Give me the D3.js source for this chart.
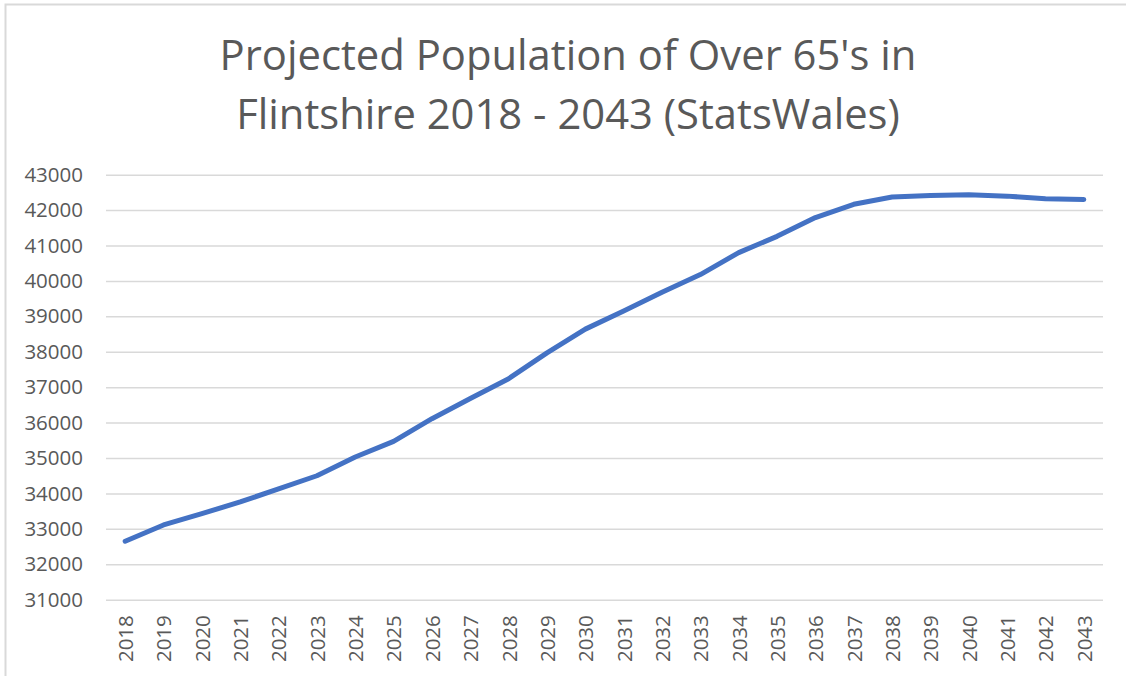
<!DOCTYPE html>
<html>
<head>
<meta charset="utf-8">
<script src="https://cdn.jsdelivr.net/npm/d3@7"></script>
<style>
  html, body { margin: 0; padding: 0; background: #fff; }
  svg { display: block; font-family: "Open Sans", sans-serif; }
</style>
</head>
<body>
<script>
const titleLines = ["Projected Population of Over 65's in", 'Flintshire 2018 - 2043 (StatsWales)'];

const years = [
  '2018', '2019', '2020', '2021', '2022', '2023', '2024', '2025', '2026',
  '2027', '2028', '2029', '2030', '2031', '2032', '2033', '2034', '2035',
  '2036', '2037', '2038', '2039', '2040', '2041', '2042', '2043'
];

const population = [
  32650, 33110, 33430, 33760, 34130, 34500, 35030, 35470, 36110,
  36680, 37240, 37970, 38640, 39150, 39680, 40180, 40800, 41260,
  41790, 42165, 42370, 42415, 42435, 42395, 42320, 42300
];

const yTicks = [31000, 32000, 33000, 34000, 35000, 36000, 37000, 38000, 39000, 40000, 41000, 42000, 43000];

const width = 1126;
const height = 676;
const margin = { top: 174.7, right: 23, bottom: 76.3, left: 106 };
const boundedWidth = width - margin.left - margin.right;
const boundedHeight = height - margin.top - margin.bottom;

const svg = d3.select('body')
  .append('svg')
  .attr('width', width)
  .attr('height', height)
  .attr('viewBox', [0, 0, width, height]);

// chart frame
svg.append('path')
  .attr('fill', 'none')
  .attr('stroke', '#d9d9d9')
  .attr('stroke-width', 2)
  .attr('d', `M 5.5 ${height} V 4.5 H ${width}`);

// title, sized so the first line spans the same width as the original
const title = svg.append('g')
  .attr('fill', '#595959')
  .attr('text-anchor', 'middle');

const titleText = title.selectAll('text')
  .data(titleLines)
  .enter()
  .append('text')
  .attr('x', 568)
  .attr('y', (d, i) => 69.5 + i * 59)
  .attr('font-size', 40)
  .text(d => d);

const measured = titleText.node().getComputedTextLength();
titleText.attr('font-size', 40 * 697 / measured);

const xScale = d3.scalePoint()
  .domain(years)
  .range([0, boundedWidth])
  .padding(0.5);

const yScale = d3.scaleLinear()
  .domain([31000, 43000])
  .range([boundedHeight, 0]);

const viz = svg.append('g')
  .attr('transform', `translate(${margin.left} ${margin.top})`);

const yAxis = d3.axisLeft(yScale)
  .tickValues(yTicks)
  .tickSizeInner(-boundedWidth)
  .tickSizeOuter(0)
  .tickPadding(23)
  .tickFormat(d => d);

const yAxisGroup = viz.append('g').call(yAxis);
yAxisGroup.select('.domain').remove();
yAxisGroup.selectAll('line')
  .attr('stroke', '#d9d9d9')
  .attr('stroke-width', 1.5);
yAxisGroup.selectAll('text')
  .attr('fill', '#595959')
  .attr('font-size', 20.5)
  .attr('font-family', '"Open Sans", sans-serif');

const xAxis = d3.axisBottom(xScale).tickSize(0);

const xAxisGroup = viz.append('g')
  .attr('transform', `translate(0 ${boundedHeight})`)
  .call(xAxis);
xAxisGroup.select('.domain').remove();
xAxisGroup.selectAll('text')
  .attr('fill', '#595959')
  .attr('font-size', 20.5)
  .attr('font-family', '"Open Sans", sans-serif')
  .attr('transform', 'rotate(-90)')
  .attr('text-anchor', 'end')
  .attr('x', -15.5)
  .attr('y', 0)
  .attr('dy', '0.36em');

const line = d3.line()
  .x((d, i) => xScale(years[i]))
  .y(d => yScale(d));

viz.append('path')
  .datum(population)
  .attr('fill', 'none')
  .attr('stroke', '#4472c4')
  .attr('stroke-width', 5)
  .attr('stroke-linejoin', 'round')
  .attr('stroke-linecap', 'round')
  .attr('d', line);
</script>
</body>
</html>
